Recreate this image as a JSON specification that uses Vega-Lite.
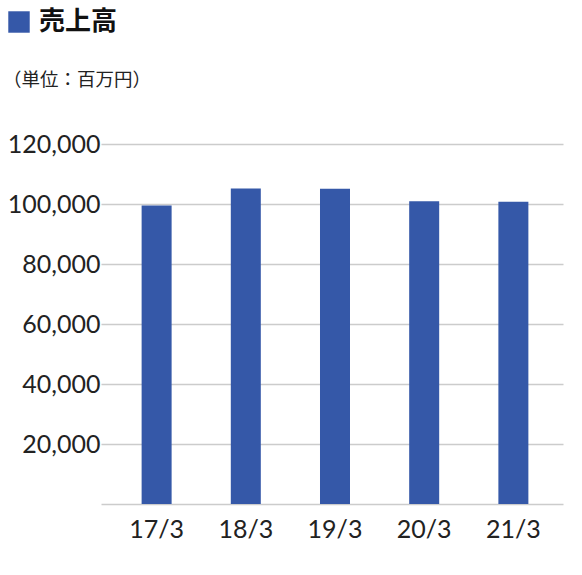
{
  "$schema": "https://vega.github.io/schema/vega-lite/v6.json",
  "description": "売上高の推移（単位：百万円）",
  "autosize": {"type": "none"},
  "padding": {"left": 101, "top": 144, "right": 19, "bottom": 71},
  "width": 462,
  "height": 360,
  "background": "#ffffff",
  "title": {
    "text": "（単位：百万円）",
    "anchor": "start",
    "frame": "group",
    "orient": "top",
    "dx": -98,
    "dy": 80,
    "offset": 0,
    "font": "Noto Sans CJK JP",
    "fontSize": 18.5,
    "fontWeight": "normal",
    "color": "#222222"
  },
  "data": {
    "values": [
      {"year": "17/3", "series": "売上高", "sales": 99500},
      {"year": "18/3", "series": "売上高", "sales": 105200},
      {"year": "19/3", "series": "売上高", "sales": 105100},
      {"year": "20/3", "series": "売上高", "sales": 100950},
      {"year": "21/3", "series": "売上高", "sales": 100750}
    ]
  },
  "mark": {"type": "bar", "width": 30},
  "encoding": {
    "x": {
      "field": "year",
      "type": "ordinal",
      "title": null,
      "scale": {"paddingInner": 0.66, "paddingOuter": 0.42, "align": 0.54},
      "axis": {
        "labelAngle": 0,
        "labelFont": "Lato",
        "labelFontSize": 25,
        "labelColor": "#222222",
        "labelPadding": 13,
        "ticks": false,
        "domainColor": "#cccccc",
        "domainWidth": 1.5
      }
    },
    "y": {
      "field": "sales",
      "type": "quantitative",
      "title": null,
      "scale": {"domain": [0, 120000]},
      "axis": {
        "values": [20000, 40000, 60000, 80000, 100000, 120000],
        "format": ",d",
        "labelFont": "Lato",
        "labelFontSize": 25,
        "labelColor": "#222222",
        "labelPadding": 1,
        "ticks": false,
        "domain": false,
        "gridColor": "#cccccc",
        "gridWidth": 1.5
      }
    },
    "color": {
      "field": "series",
      "type": "nominal",
      "title": null,
      "scale": {"range": ["#3558a8"]},
      "legend": {
        "orient": "none",
        "legendX": -95,
        "legendY": -135,
        "padding": 0,
        "symbolType": "square",
        "symbolSize": 460,
        "symbolStrokeWidth": 0,
        "symbolOpacity": 1,
        "labelFont": "Noto Sans CJK JP",
        "labelFontSize": 26,
        "labelFontWeight": "bold",
        "labelColor": "#111111",
        "labelOffset": 7
      }
    }
  },
  "config": {
    "view": {"stroke": null}
  }
}
